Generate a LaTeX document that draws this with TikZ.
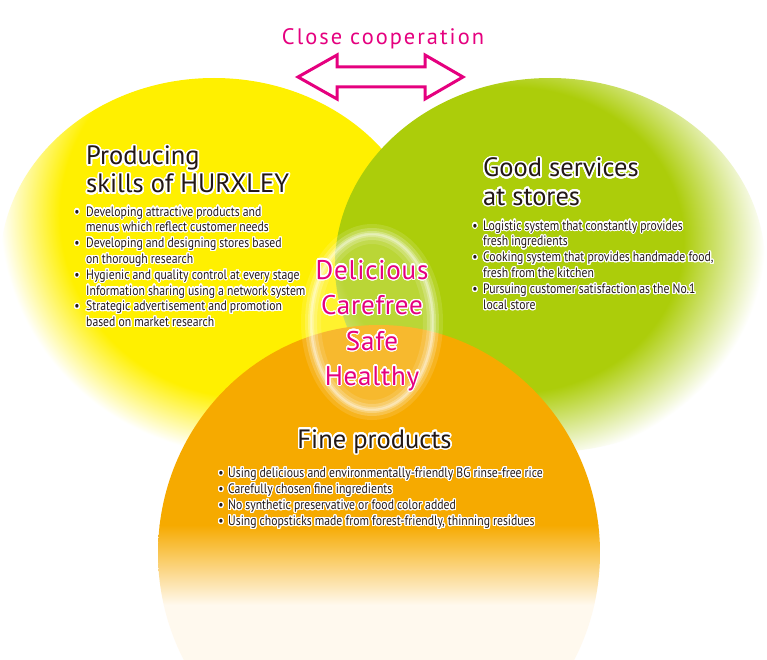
\documentclass[tikz,border=0pt]{standalone}
\usepackage{fontspec}
\setmainfont{PT Sans}
\newfontfamily\condfont[FakeStretch=0.86]{PT Sans}
\newfontfamily\spacedfont[LetterSpace=9]{PT Sans}
\newfontfamily\pinkfont[LetterSpace=3]{PT Sans}
\usepackage{contour}
\contournumber{32}
\definecolor{ycol}{RGB}{255,240,0}
\definecolor{gcol}{RGB}{172,205,10}
\definecolor{ocol}{RGB}{246,170,0}
\definecolor{cream}{RGB}{255,249,238}
\definecolor{pcol}{RGB}{229,0,127}
\definecolor{tcol}{RGB}{35,24,21}
\pgfdeclareradialshading{yfade}{\pgfpoint{0bp}{0bp}}{color(0bp)=(ycol); color(19bp)=(ycol); color(25bp)=(white); color(50bp)=(white)}
\pgfdeclareradialshading{gfade}{\pgfpoint{0bp}{0bp}}{color(0bp)=(gcol); color(17bp)=(gcol); color(25bp)=(white); color(50bp)=(white)}
\newcommand{\hlt}[1]{\contourlength{1.6pt}\contour{white}{#1}}
\newcommand{\hlb}[1]{\contourlength{1.1pt}\contour{white}{#1}}
\begin{document}
\begin{tikzpicture}[x=1pt,y=-1pt,
  titletext/.style={font=\fontsize{26.5}{28}\selectfont, text=tcol, inner sep=0, anchor=base west},
  bultext/.style={font=\condfont\fontsize{13.6}{15.8}\selectfont, text=tcol, inner sep=0, anchor=base west},
  dot/.style={font=\condfont\fontsize{13.6}{15.8}\selectfont, text=tcol, inner sep=0, anchor=base},
  pinktext/.style={font=\pinkfont\fontsize{27}{35}\selectfont, text=pcol, inner sep=0, anchor=base},
  coop/.style={font=\spacedfont\fontsize{22.4}{24}\selectfont, text=pcol, inner sep=0, anchor=base}]
\useasboundingbox (0,0) rectangle (767,660);
\fill[white] (0,0) rectangle (767,660);
\begin{scope}
\clip (0,0) rectangle (767,660);
% yellow circle
\begin{scope}
\clip (214,265) ellipse [x radius=214pt, y radius=187pt];
\shade[shading=yfade] (250,215) ellipse [x radius=250pt, y radius=240pt];
\end{scope}
% green circle
\begin{scope}
\clip (550,265) ellipse [x radius=215pt, y radius=187pt];
\shade[shading=gfade] (510,240) ellipse [x radius=255pt, y radius=225pt];
\end{scope}
% orange circle
\begin{scope}
\clip (379,553) ellipse [x radius=221pt, y radius=228pt];
\fill[ocol] (0,300) rectangle (767,526);
\shade[top color=ocol, bottom color=cream] (0,525) rectangle (767,605);
\fill[cream] (0,604.5) rectangle (767,800);
\end{scope}
% glow ring
\fill[white, opacity=0.18] (372,322) ellipse [x radius=61pt, y radius=88pt];
\draw[white, opacity=0.12, line width=20pt] (372,322) ellipse [x radius=61pt, y radius=88pt];
\draw[white, opacity=0.2, line width=12pt] (372,322) ellipse [x radius=61pt, y radius=88pt];
\draw[white, opacity=0.25, line width=6pt] (372,322) ellipse [x radius=61pt, y radius=88pt];
\draw[white, opacity=0.35, line width=2.5pt] (372,322) ellipse [x radius=61pt, y radius=88pt];
\end{scope}

% close cooperation arrow
\node[coop] (coop) at (383,45) {Close cooperation};
\coordinate (al) at (298,77);
\coordinate (ar) at (463,77);
\draw[pcol, line width=3pt, fill=white, line join=miter]
  (al) -- (337,55) -- (337,67) -- (425,67) -- (425,55) -- (ar) -- (425,99) -- (425,87) -- (337,87) -- (337,99) -- cycle;

% yellow texts
\node[titletext] (yt1) at (86,165) {\hlt{Producing}};
\node[titletext] (yt2) at (86,193) {\hlt{skills of HURXLEY}};
\node[dot] (yb1) at (77,216) {\hlb{•}};
\node[dot] (yb2) at (77,247.6) {\hlb{•}};
\node[dot] (yb3) at (77,279.2) {\hlb{•}};
\node[dot] (yb4) at (77,310.8) {\hlb{•}};
\node[bultext] (y1) at (86,216) {\hlb{Developing attractive products and}};
\node[bultext] (y2) at (86,231.8) {\hlb{menus which reflect customer needs}};
\node[bultext] (y3) at (86,247.6) {\hlb{Developing and designing stores based}};
\node[bultext] (y4) at (86,263.4) {\hlb{on thorough research}};
\node[bultext] (y5) at (86,279.2) {\hlb{Hygienic and quality control at every stage}};
\node[bultext] (y6) at (86,295.0) {\hlb{Information sharing using a network system}};
\node[bultext] (y7) at (86,310.8) {\hlb{Strategic advertisement and promotion}};
\node[bultext] (y8) at (86,326.6) {\hlb{based on market research}};

% green texts
\node[titletext] (gt1) at (483,177) {\hlt{Good services}};
\node[titletext] (gt2) at (483,205) {\hlt{at stores}};
\node[dot] (gb1) at (475,230) {\hlb{•}};
\node[dot] (gb2) at (475,261.8) {\hlb{•}};
\node[dot] (gb3) at (475,293.6) {\hlb{•}};
\node[bultext] (g1) at (483,230) {\hlb{Logistic system that constantly provides}};
\node[bultext] (g2) at (483,245.9) {\hlb{fresh ingredients}};
\node[bultext] (g3) at (483,261.8) {\hlb{Cooking system that provides handmade food,}};
\node[bultext] (g4) at (483,277.7) {\hlb{fresh from the kitchen}};
\node[bultext] (g5) at (483,293.6) {\hlb{Pursuing customer satisfaction as the No.1}};
\node[bultext] (g6) at (483,309.5) {\hlb{local store}};

% orange texts
\node[titletext, anchor=base] (ot) at (374.5,448) {\hlt{Fine products}};
\node[dot] (ob1) at (221,477.3) {\hlb{•}};
\node[dot] (ob2) at (221,493.4) {\hlb{•}};
\node[dot] (ob3) at (221,509.5) {\hlb{•}};
\node[dot] (ob4) at (221,525.6) {\hlb{•}};
\node[bultext] (o1) at (228,477.3) {\hlb{Using delicious and environmentally-friendly BG rinse-free rice}};
\node[bultext] (o2) at (228,493.4) {\hlb{Carefully chosen fine ingredients}};
\node[bultext] (o3) at (228,509.5) {\hlb{No synthetic preservative or food color added}};
\node[bultext] (o4) at (228,525.6) {\hlb{Using chopsticks made from forest-friendly, thinning residues}};

% centre words
\node[pinktext] (p1) at (372,279) {\hlb{Delicious}};
\node[pinktext] (p2) at (372,314.5) {\hlb{Carefree}};
\node[pinktext] (p3) at (372,350) {\hlb{Safe}};
\node[pinktext] (p4) at (372,385) {\hlb{Healthy}};
\end{tikzpicture}
\end{document}
